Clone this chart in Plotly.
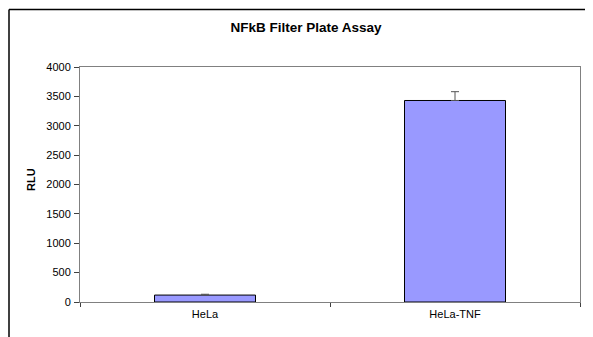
import plotly.graph_objects as go

categories = ["HeLa", "HeLa-TNF"]
rlu_values = [118, 3430]
rlu_errors = [14, 150]
y_ticks = [0, 500, 1000, 1500, 2000, 2500, 3000, 3500, 4000]

# the page body has an 8px margin, so the figure starts at (8, 8) of the window
OFF = 8
W, H = 593 - OFF, 337 - OFF
L, R, T, B = 80 - OFF, 13, 67 - OFF, 35
pw, ph = W - L - R, H - T - B

def px_x(px):
    return (px - OFF - L) / pw

def px_y(py):
    return (H - B - (py - OFF)) / ph

fig = go.Figure()
fig.add_trace(go.Bar(
    x=categories, y=rlu_values,
    marker=dict(color="#9999FF", line=dict(color="#000000", width=1)),
    error_y=dict(type="data", array=rlu_errors, symmetric=False, arrayminus=[0, 0],
                 color="#555555", thickness=1, width=4),
    showlegend=False,
))

font_family = "Arial, Liberation Sans, sans-serif"
fig.update_layout(
    width=W, height=H,
    margin=dict(l=L, r=R, t=T, b=B),
    paper_bgcolor="white", plot_bgcolor="white",
    bargap=0.596,
    font=dict(family=font_family, size=11, color="#000000"),
    title=dict(text="<b>NFkB Filter Plate Assay</b>", x=px_x(306), xref="paper",
               xanchor="center", y=1 - (27 - OFF) / H, yanchor="middle",
               font=dict(size=13.5, family=font_family)),
    xaxis=dict(showline=True, linecolor="#808080", linewidth=1, mirror=True,
               ticks="outside", tickson="boundaries", ticklen=4, tickcolor="#404040",
               showgrid=False, tickfont=dict(size=11), ticklabelstandoff=2),
    yaxis=dict(range=[0, 4000], tickvals=y_ticks, showline=True, linecolor="#808080",
               linewidth=1, mirror=True, ticks="outside", ticklen=5, tickcolor="#404040",
               showgrid=False, zeroline=False, tickfont=dict(size=11), ticklabelstandoff=1),
    shapes=[
        dict(type="line", xref="paper", yref="paper",
             x0=px_x(9), x1=px_x(590.5), y0=px_y(9.5), y1=px_y(9.5),
             line=dict(color="#000000", width=1.5)),
        dict(type="line", xref="paper", yref="paper",
             x0=px_x(9), x1=px_x(9), y0=px_y(9.5), y1=px_y(345),
             line=dict(color="#000000", width=1.5)),
        dict(type="line", xref="paper", yref="paper",
             x0=px_x(590.5), x1=px_x(590.5), y0=px_y(9.5), y1=px_y(345),
             line=dict(color="#000000", width=1.5)),
    ],
    annotations=[dict(text="<b>RLU</b>", xref="paper", yref="paper",
                      x=px_x(31), y=px_y(180), textangle=-90, showarrow=False,
                      xanchor="center", yanchor="middle", font=dict(size=11))],
)

fig.write_html("out.html")
